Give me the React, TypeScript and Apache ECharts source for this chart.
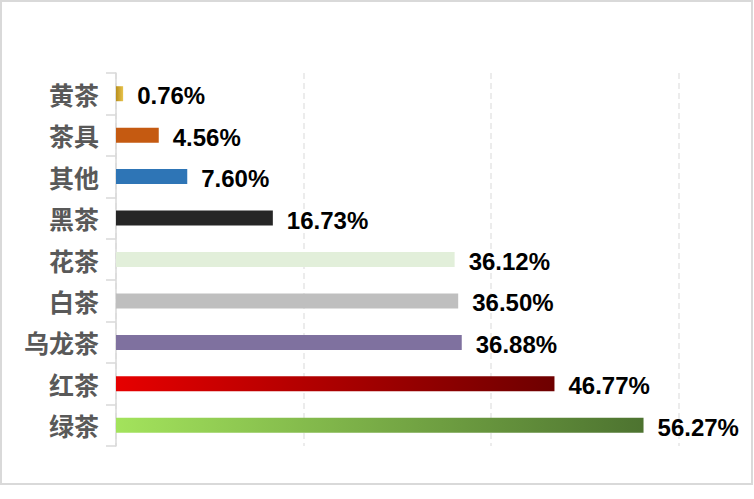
import React, { useEffect, useRef } from "react";
import * as echarts from "echarts";

const categories = ["绿茶", "红茶", "乌龙茶", "白茶", "花茶", "黑茶", "其他", "茶具", "黄茶"];
const values = [56.27, 46.77, 36.88, 36.5, 36.12, 16.73, 7.6, 4.56, 0.76];
const xTicks = [0, 20, 40, 60];

const lg = (a: string, b: string) =>
  new echarts.graphic.LinearGradient(0, 0, 1, 0, [
    { offset: 0, color: a },
    { offset: 1, color: b },
  ]);

const colors: any[] = [
  lg("#a3e35c", "#4d7330"),
  lg("#e60000", "#6e0000"),
  "#7f719f",
  "#bfbfbf",
  "#e2efda",
  "#262626",
  "#2e75b6",
  "#c55a11",
  lg("#b88f1c", "#e8c34c"),
];

export default function App() {
  const ref = useRef<HTMLDivElement>(null);
  useEffect(() => {
    const chart = echarts.init(ref.current!, undefined, { renderer: "svg" });
    chart.setOption({
      animation: false,
      backgroundColor: "#ffffff",
      graphic: [
        {
          type: "rect",
          shape: { x: 1, y: 1, width: 751, height: 483 },
          style: { fill: "none", stroke: "#d9d9d9", lineWidth: 2 },
          silent: true,
        },
      ],
      grid: { left: 116, right: 75.5, top: 73, bottom: 53, containLabel: false },
      xAxis: {
        type: "value",
        min: xTicks[0],
        max: xTicks[xTicks.length - 1],
        interval: 20,
        axisLabel: { show: false },
        axisLine: { show: false },
        axisTick: { show: false },
        splitLine: { show: true, lineStyle: { color: "#e6e6e6", type: [6, 4], width: 1.5 } },
      },
      yAxis: {
        type: "category",
        data: categories,
        axisLine: { show: true, lineStyle: { color: "#d9d9d9", width: 1.5 } },
        axisTick: { show: true, length: 10, lineStyle: { color: "#d9d9d9", width: 1.5 } },
        axisLabel: {
          margin: 17,
          color: "#595959",
          fontSize: 25,
          fontWeight: "bold",
          fontFamily: "Noto Sans CJK SC",
        },
      },
      series: [
        {
          type: "bar",
          barWidth: 15,
          data: values.map((v, i) => ({ value: v, itemStyle: { color: colors[i] } })),
          label: {
            show: true,
            position: "right",
            distance: 14,
            offset: [0, 2],
            color: "#000000",
            fontSize: 24,
            fontWeight: "bold",
            fontFamily: "Liberation Sans",
            formatter: (p: any) => p.value.toFixed(2) + "%",
          },
        },
      ],
    });
    return () => chart.dispose();
  }, []);
  return (
    <div style={{ position: "fixed", left: 0, top: 0, width: 754, height: 499 }}>
      <div ref={ref} style={{ width: 754, height: 499 }} />
    </div>
  );
}
